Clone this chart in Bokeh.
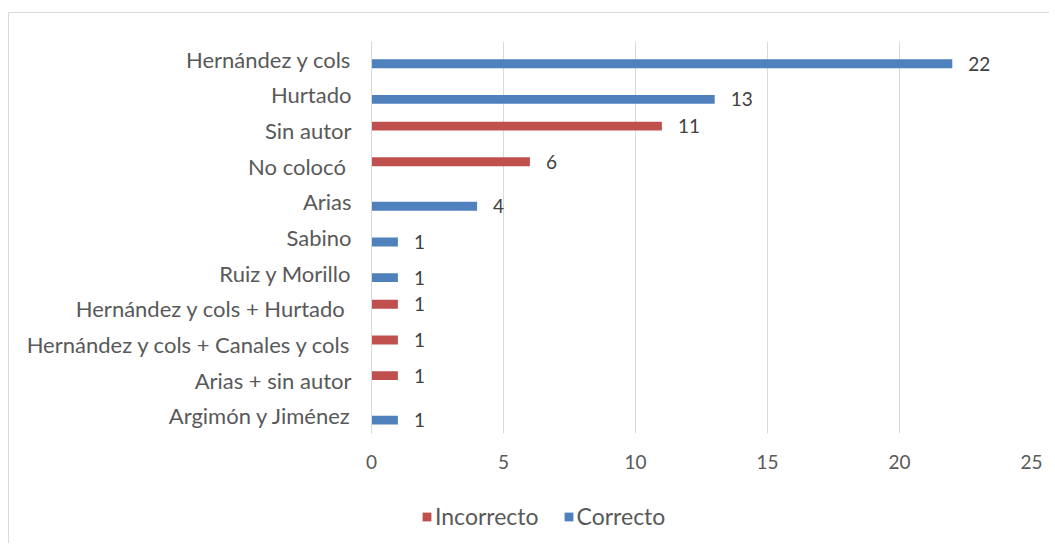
from bokeh.plotting import figure
from bokeh.models import ColumnDataSource, Legend, LegendItem, FactorRange, FixedTicker
from bokeh.layouts import column
from bokeh.transform import dodge
from bokeh.core.properties import value
from bokeh.embed import file_html
from bokeh.resources import INLINE

categories = ["Hernández y cols", "Hurtado", "Sin autor", "No colocó ", "Arias", "Sabino",
              "Ruiz y Morillo", "Hernández y cols + Hurtado ", "Hernández y cols + Canales y cols",
              "Arias + sin autor", "Argimón y Jiménez"]
incorrecto = [0, 0, 11, 6, 0, 0, 0, 1, 1, 1, 0]
correcto = [22, 13, 0, 0, 4, 1, 1, 0, 0, 0, 1]
series_names = ["Incorrecto", "Correcto"]
x_ticks = [0, 5, 10, 15, 20, 25]

FONT = "Lato"
BLUE = "#4F81BD"
RED = "#C0504D"

src = ColumnDataSource(dict(cat=categories, inc=incorrecto, cor=correcto))
lab_inc = ColumnDataSource(dict(cat=[c for c, v in zip(categories, incorrecto) if v > 0],
                                v=[v for v in incorrecto if v > 0],
                                t=[str(v) for v in incorrecto if v > 0]))
lab_cor = ColumnDataSource(dict(cat=[c for c, v in zip(categories, correcto) if v > 0],
                                v=[v for v in correcto if v > 0],
                                t=[str(v) for v in correcto if v > 0]))

p = figure(frame_width=660, frame_height=392, y_range=FactorRange(factors=categories[::-1]),
           x_range=(0, 25),
           output_backend="svg", toolbar_location=None,
           min_border_left=362, min_border_right=18, min_border_top=28, min_border_bottom=50)
p.outline_line_color = None

p.hbar(y=dodge("cat", 0.125, range=p.y_range), right="inc", left=0, height=0.25,
       source=src, fill_color=RED, line_color=None)
p.hbar(y=dodge("cat", -0.125, range=p.y_range), right="cor", left=0, height=0.25,
       source=src, fill_color=BLUE, line_color=None)

for s, off in ((lab_inc, 0.125), (lab_cor, -0.125)):
    p.text(x="v", y=dodge("cat", off, range=p.y_range), text="t", source=s,
           x_offset=16, text_baseline="middle", text_align="left",
           text_font=value(FONT), text_font_size="19px", text_color="#404040")

p.xaxis.ticker = FixedTicker(ticks=x_ticks)
p.xaxis.axis_line_color = None
p.xaxis.major_tick_line_color = None
p.xaxis.minor_tick_line_color = None
p.xaxis.major_tick_out = 0
p.xaxis.major_label_standoff = 21
p.xaxis.major_label_text_font = FONT
p.xaxis.major_label_text_font_size = "19px"
p.xaxis.major_label_text_color = "#595959"

p.yaxis.axis_line_color = "#D9D9D9"
p.yaxis.major_tick_line_color = None
p.yaxis.minor_tick_line_color = None
p.yaxis.major_tick_out = 0
p.yaxis.major_label_standoff = 20
p.yaxis.major_label_text_font = FONT
p.yaxis.major_label_text_font_size = "22px"
p.yaxis.major_label_text_color = "#595959"

p.xgrid.ticker = FixedTicker(ticks=x_ticks)
p.xgrid.grid_line_color = "#D9D9D9"
p.xgrid.grid_line_width = 1
p.ygrid.grid_line_color = None

# legend strip below the chart (its frame is aligned with the chart frame)
lg = figure(width=1040, height=60, output_backend="svg", toolbar_location=None,
            x_axis_location=None, y_axis_location=None, min_border=0,
            x_range=(0, 1), y_range=(0, 1))
lg.outline_line_color = None
lg.grid.visible = False
proxy = ColumnDataSource(dict(y=[-5], left=[0], right=[0]))
g_inc = lg.hbar(y="y", left="left", right="right", height=0.5, source=proxy,
                fill_color=RED, line_color=None)
g_cor = lg.hbar(y="y", left="left", right="right", height=0.5, source=proxy,
                fill_color=BLUE, line_color=None)
legend = Legend(items=[LegendItem(label=series_names[0], renderers=[g_inc]),
                       LegendItem(label=series_names[1], renderers=[g_cor])],
                orientation="horizontal", location=(50, 13),
                glyph_width=11, glyph_height=11, label_standoff=3, spacing=24,
                label_text_font=FONT, label_text_font_size="23px", label_text_color="#595959",
                border_line_color=None, background_fill_alpha=0, padding=0, margin=0)
lg.add_layout(legend, "center")

layout = column(p, lg, spacing=0)
layout.styles = {"border-top": "1px solid #D9D9D9", "border-left": "1px solid #D9D9D9",
                 "margin-top": "12px", "margin-left": "8px"}

open("out.html", "w").write(file_html(layout, INLINE))
